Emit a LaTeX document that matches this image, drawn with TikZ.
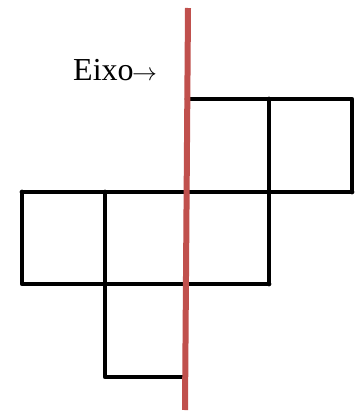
\documentclass[tikz,border=0pt]{standalone}
\usepackage{fontspec}
\setmainfont{Liberation Serif}
\usepackage{xcolor}
\usetikzlibrary{positioning,calc}
\definecolor{axisred}{HTML}{C0504D}

\begin{document}
\begin{tikzpicture}[x=1pt, y=-1pt,
    edge/.style={draw=black, line width=4.8pt, line join=round, line cap=round},
    axisline/.style={draw=axisred, line width=6pt}]
    \useasboundingbox (0,0) rectangle (354,415);

    % Net of the squares
    \coordinate (tl) at (187,99);
    \draw[edge] (tl) -- (352,99) -- (352,192);
    \draw[edge] (22,192) -- (352,192);
    \draw[edge] (22,192) -- (22,284) -- (269,284);
    \draw[edge] (269,99) -- (269,284);
    \draw[edge] (105,192) -- (105,377) -- (182,377);

    % Axis of symmetry
    \coordinate (axtop) at (188,8);
    \coordinate (axbot) at (185,410);
    \draw[axisline] (axtop) -- (axbot);

    % Label
    \node[anchor=base west, inner sep=0pt, font=\fontsize{32}{34}\selectfont] (label) at (73,80) {Eixo\hspace{-1.5pt}$\rightarrow$};
\end{tikzpicture}
\end{document}
